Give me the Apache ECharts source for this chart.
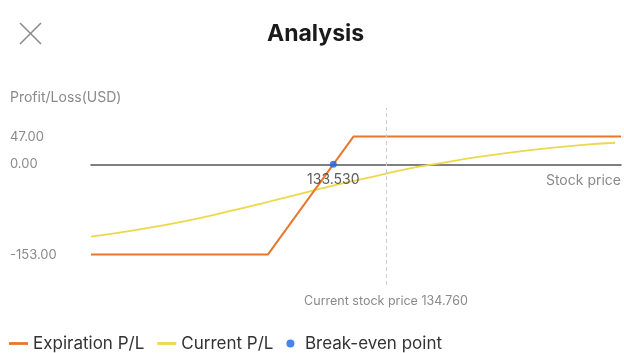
<!DOCTYPE html>
<html>
<head>
<meta charset="utf-8">
<script src="https://cdn.jsdelivr.net/npm/echarts@6/dist/echarts.min.js"></script>
<style>
html,body{margin:0;padding:0;background:#fff;}
#c{width:624px;height:353px;}
</style>
</head>
<body>
<div id="c"></div>
<script>
// ---- data ----
var expirationPL = [[127.87, -153], [132.00, -153], [134.00, 47], [140.25, 47]];
var currentPL = [
  [127.87, -122.5], [128.90, -111.4], [130.07, -96.1], [131.24, -77.0],
  [132.01, -63.4], [132.80, -49.2], [133.57, -35.1], [134.62, -18.1],
  [135.32, -6.8], [135.86, 0], [136.96, 12.9], [138.13, 24.2],
  [139.30, 32.7], [140.11, 36.6]
];
var breakEven = [[133.53, 0]];
var breakEvenLabel = '133.530';
var currentPrice = 134.76;
var currentPriceLabel = 'Current stock price 134.760';
var yTickValues = [47, 0, -153];
var xRange = [127.87, 140.25];
var yRange = [-204.5, 95.5];

var FONT = 'Inter, Roboto, sans-serif';
var lineIcon = 'path://M0,0 M0,8 M0,2.6 L19,2.6 L19,5.4 L0,5.4 Z';

var chart = echarts.init(document.getElementById('c'), null, {renderer: 'canvas'});
chart.setOption({
  animation: false,
  textStyle: {fontFamily: FONT},
  title: [
    {text: 'Analysis', left: 262, top: 18,
     textStyle: {fontSize: 23, fontWeight: 'bold', color: '#1a1a1a', fontFamily: FONT}},
    {text: 'Profit/Loss(USD)', left: 5, top: 86,
     textStyle: {fontSize: 14, fontWeight: 'normal', color: '#8a8a8a', fontFamily: FONT}}
  ],
  graphic: [
    {type: 'line', shape: {x1: 20, y1: 23, x2: 41, y2: 44}, style: {stroke: '#8c8c8c', lineWidth: 1.6}},
    {type: 'line', shape: {x1: 41, y1: 23, x2: 20, y2: 44}, style: {stroke: '#8c8c8c', lineWidth: 1.6}}
  ],
  grid: {left: 91, right: 3, top: 108, height: 177, containLabel: false},
  legend: {
    left: 4, top: 330,
    itemWidth: 19, itemHeight: 8, itemGap: 13,
    textStyle: {fontSize: 17, color: '#333', fontFamily: FONT},
    data: [
      {name: 'Expiration P/L', icon: lineIcon},
      {name: 'Current P/L', icon: lineIcon},
      {name: 'Break-even point', icon: 'circle'}
    ]
  },
  xAxis: {
    type: 'value', min: xRange[0], max: xRange[1],
    axisLine: {show: true, onZero: true, lineStyle: {color: '#555', width: 1.6}},
    axisTick: {show: false}, axisLabel: {show: false}, splitLine: {show: false},
    name: 'Stock price', nameLocation: 'end', nameGap: 0,
    nameTextStyle: {align: 'right', verticalAlign: 'top', padding: [9, 0, 0, 0],
      fontSize: 14, color: '#8a8a8a', fontFamily: FONT}
  },
  yAxis: {
    type: 'value', min: yRange[0], max: yRange[1],
    axisLine: {show: false}, axisTick: {show: false}, splitLine: {show: false},
    axisLabel: {
      show: true, customValues: yTickValues, align: 'left', margin: 81,
      fontSize: 13, color: '#8a8a8a', fontFamily: FONT,
      formatter: function (v) { return Number(v).toFixed(2); }
    }
  },
  series: [
    {
      name: 'Expiration P/L', type: 'line', data: expirationPL,
      symbol: 'none', lineStyle: {color: '#e8772e', width: 2}, itemStyle: {color: '#e8772e'},
      z: 3,
      markLine: {
        silent: true, symbol: 'none',
        lineStyle: {type: [4, 3], color: '#cfcfcf', width: 1},
        label: {show: true, position: 'start', distance: 10, formatter: currentPriceLabel,
          fontSize: 12.5, color: '#8a8a8a', fontFamily: FONT},
        data: [{xAxis: currentPrice}]
      }
    },
    {
      name: 'Current P/L', type: 'line', data: currentPL, smooth: true,
      symbol: 'none', lineStyle: {color: '#ecd84c', width: 1.8}, itemStyle: {color: '#ecd84c'},
      z: 2
    },
    {
      name: 'Break-even point', type: 'scatter', data: breakEven,
      symbolSize: 7, itemStyle: {color: '#1565e8'}, z: 5,
      label: {show: true, position: 'bottom', distance: 5, formatter: breakEvenLabel,
        fontSize: 14, color: '#333', fontFamily: FONT}
    }
  ]
});
</script>
</body>
</html>
